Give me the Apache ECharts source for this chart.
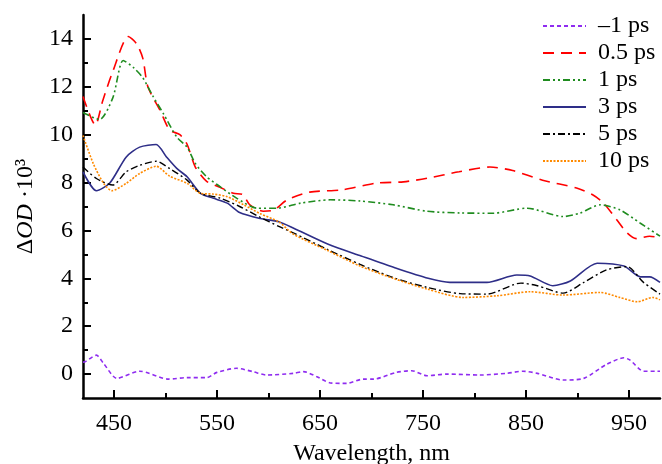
<!DOCTYPE html>
<html>
<head>
<meta charset="utf-8">
<script src="https://cdn.jsdelivr.net/npm/echarts@6/dist/echarts.min.js"></script>
<style>
  html, body { margin: 0; padding: 0; background: #fff; }
  #chart { width: 662px; height: 464px; }
</style>
</head>
<body>
<div id="chart"></div>
<script>
// tick positions
var xMajor = [450, 550, 650, 750, 850, 950];
var xMinor = [500, 600, 700, 800, 900];
var yMajor = [0, 2, 4, 6, 8, 10, 12, 14];
var yMinor = [1, 3, 5, 7, 9, 11, 13];

// -1 ps
var wlP = [420, 422, 433, 440, 453, 475, 503, 521, 540, 550, 569, 585, 598, 624, 634, 647, 660, 676, 692, 702, 724, 739, 754, 773, 805, 831, 847, 861, 886, 906, 928, 945, 951, 964, 977, 980];
var odP = [0.5, 0.51, 0.79, 0.44, -0.18, 0.12, -0.21, -0.15, -0.15, 0.07, 0.24, 0.1, -0.04, 0.03, 0.1, -0.11, -0.37, -0.39, -0.21, -0.21, 0.07, 0.14, -0.07, 0, -0.04, 0.03, 0.12, 0.03, -0.25, -0.18, 0.4, 0.68, 0.58, 0.12, 0.12, 0.12];
// 0.5 ps
var wlR = [420, 432, 439, 449, 464, 472, 478, 483, 495, 504, 514, 521, 529, 540, 553, 566, 575, 582, 595, 605, 618, 640, 672, 705, 731, 754, 785, 815, 837, 866, 899, 915, 925, 938, 948, 957, 970, 980];
var odR = [11.6, 10.4, 11.4, 12.65, 14.1, 13.8, 13.2, 12.0, 11.0, 10.2, 10.0, 9.6, 8.65, 8.05, 7.8, 7.55, 7.5, 7.07, 6.8, 6.85, 7.27, 7.6, 7.7, 7.98, 8.03, 8.18, 8.45, 8.65, 8.5, 8.1, 7.77, 7.48, 7.15, 6.45, 5.9, 5.66, 5.76, 5.7];
// 1 ps
var wlG = [420, 436, 449, 459, 469, 478, 488, 498, 511, 521, 529, 540, 553, 569, 589, 608, 631, 660, 689, 721, 754, 786, 818, 851, 886, 902, 922, 941, 961, 980];
var odG = [10.93, 10.63, 11.55, 13.1, 12.8, 12.38, 11.6, 10.88, 9.9, 9.48, 8.8, 8.24, 7.83, 7.35, 6.93, 6.93, 7.14, 7.28, 7.23, 7.07, 6.8, 6.73, 6.72, 6.93, 6.58, 6.72, 7.07, 6.86, 6.3, 5.76];
// 3 ps
var wlN = [420, 433, 446, 462, 475, 491, 501, 511, 521, 534, 546, 560, 572, 592, 610, 624, 658, 690, 722, 755, 776, 812, 841, 854, 876, 893, 919, 945, 961, 970, 980];
var odN = [8.45, 7.66, 7.98, 9.07, 9.48, 9.59, 9.07, 8.59, 8.24, 7.55, 7.35, 7.14, 6.75, 6.5, 6.36, 6.1, 5.42, 4.93, 4.45, 4.0, 3.83, 3.83, 4.14, 4.1, 3.69, 3.89, 4.63, 4.51, 4.06, 4.06, 3.83];
// 5 ps
var wlK = [420, 433, 449, 462, 475, 491, 504, 521, 534, 553, 572, 592, 610, 624, 658, 689, 721, 754, 786, 812, 845, 861, 886, 906, 928, 948, 964, 980];
var odK = [8.65, 8.17, 7.9, 8.45, 8.72, 8.89, 8.59, 8.1, 7.55, 7.35, 7.0, 6.55, 6.17, 5.9, 5.19, 4.58, 4.03, 3.62, 3.36, 3.34, 3.8, 3.69, 3.38, 3.83, 4.35, 4.49, 3.83, 3.34];
// 10 ps
var wlO = [420, 430, 440, 448, 462, 475, 491, 504, 521, 534, 546, 560, 576, 592, 610, 624, 658, 689, 721, 754, 789, 822, 854, 886, 922, 941, 958, 973, 980];
var odO = [9.97, 8.79, 7.97, 7.66, 7.97, 8.38, 8.68, 8.27, 7.97, 7.55, 7.52, 7.41, 7.07, 6.7, 6.36, 5.85, 5.15, 4.51, 4.0, 3.55, 3.2, 3.27, 3.44, 3.3, 3.41, 3.2, 3.02, 3.2, 3.1];

var names = ['–1 ps', '0.5 ps', '1 ps', '3 ps', '5 ps', '10 ps'];

function pairs(xs, ys) {
  var out = [];
  for (var i = 0; i < xs.length; i++) out.push([xs[i], ys[i]]);
  return out;
}

function line(name, xs, ys, color, dash, width) {
  return {
    name: name,
    type: 'line',
    data: pairs(xs, ys),
    smooth: 0.25,
    symbol: 'none',
    lineStyle: { color: color, width: width, type: dash },
    itemStyle: { color: color },
    z: 3
  };
}

var font = 'Liberation Serif';
var chart = echarts.init(document.getElementById('chart'));
chart.setOption({
  animation: false,
  textStyle: { fontFamily: font },
  grid: { left: 83, right: 2, top: 15, bottom: 66, outerBoundsMode: 'none' },
  legend: {
    orient: 'vertical',
    left: 542,
    top: 14,
    padding: 0,
    itemWidth: 43,
    itemHeight: 14,
    itemGap: 3,
    data: names,
    itemStyle: { opacity: 0 },
    textStyle: { fontFamily: font, fontSize: 24, color: '#000', lineHeight: 22, padding: [0, 0, 0, 7] }
  },
  xAxis: [
    {
      type: 'value', min: 420, max: 980,
      name: 'Wavelength, nm', nameLocation: 'middle', nameGap: 44,
      nameTextStyle: { fontFamily: font, fontSize: 24, color: '#000' },
      axisLine: { onZero: false, lineStyle: { color: '#000', width: 2.5 } },
      axisTick: { inside: true, length: 8, customValues: xMajor, lineStyle: { color: '#000', width: 2 } },
      axisLabel: { customValues: xMajor, fontFamily: font, fontSize: 24, color: '#000', margin: 14 },
      splitLine: { show: false }
    },
    {
      type: 'value', min: 420, max: 980, position: 'bottom',
      axisLine: { show: false, onZero: false },
      axisTick: { inside: true, length: 5, customValues: xMinor, lineStyle: { color: '#000', width: 2 } },
      axisLabel: { show: false },
      splitLine: { show: false }
    }
  ],
  yAxis: [
    {
      type: 'value', min: -1, max: 15,
      name: '{d|Δ}{i|OD}{d| ·10³}', nameLocation: 'middle', nameGap: 43,
      nameTextStyle: {
        rich: {
          d: { fontFamily: font, fontSize: 24, color: '#000' },
          i: { fontFamily: font, fontSize: 24, fontStyle: 'italic', color: '#000' }
        }
      },
      axisLine: { onZero: false, lineStyle: { color: '#000', width: 2.5 } },
      axisTick: { inside: true, length: 8, customValues: yMajor, lineStyle: { color: '#000', width: 2 } },
      axisLabel: { customValues: yMajor, fontFamily: font, fontSize: 24, color: '#000', margin: 10 },
      splitLine: { show: false }
    },
    {
      type: 'value', min: -1, max: 15, position: 'left',
      axisLine: { show: false, onZero: false },
      axisTick: { inside: true, length: 5, customValues: yMinor, lineStyle: { color: '#000', width: 2 } },
      axisLabel: { show: false },
      splitLine: { show: false }
    }
  ],
  series: [
    line(names[0], wlP, odP, '#8f2cf0', [4, 3], 1.6),
    line(names[1], wlR, odR, '#ff0000', [11, 7], 1.6),
    line(names[2], wlG, odG, '#1f8c1f', [7, 3, 2, 3, 2, 3], 1.6),
    line(names[3], wlN, odN, '#2e2e88', 'solid', 1.6),
    line(names[4], wlK, odK, '#000000', [7, 3, 2, 3], 1.4),
    line(names[5], wlO, odO, '#ff8a00', [2, 1.5], 1.6)
  ]
});
</script>
</body>
</html>
